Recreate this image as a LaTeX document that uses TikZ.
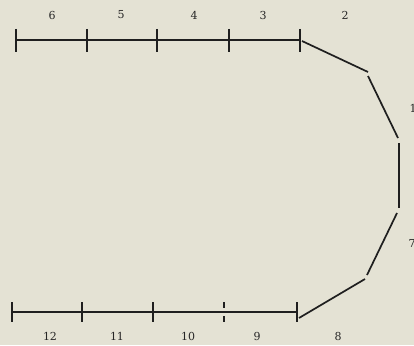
\documentclass[tikz,border=0pt]{standalone}
\usepackage{fontspec}
\setmainfont{DejaVu Serif}
\begin{document}
\begin{tikzpicture}[x=1pt,y=-1pt,
  seg/.style={line width=2.2pt, draw=black!88},
  slant/.style={line width=1.7pt, draw=black!88},
  tickmark/.style={line width=2pt, draw=black!88},
  lab/.style={font=\fontsize{11}{13}\selectfont, text=black!85, inner sep=0pt}]
\definecolor{paper}{RGB}{228,226,212}
\fill[paper] (0,0) rectangle (414,345);
\useasboundingbox (0,0) rectangle (414,345);
% top line
\foreach \n/\x in {t1/15.5,t2/87,t3/157,t4/229,t5/300}{
  \coordinate (\n) at (\x,40);
  \draw[tickmark] (\x,29) -- (\x,52);
}
\draw[seg] (t1) -- (t2) -- (t3) -- (t4) -- (t5);
% bottom line
\foreach \n/\x in {b1/12,b2/82,b3/153,b5/297}{
  \coordinate (\n) at (\x,312);
  \draw[tickmark] (\x,302) -- (\x,322);
}
\coordinate (b4) at (224,312);
\draw[tickmark] (224,302) -- (224,308);
\draw[tickmark] (224,316) -- (224,322);
\draw[seg] (b1) -- (b2) -- (b3) -- (b4) -- (b5);
% curved chain
\coordinate (p1) at (302,41);
\coordinate (p2) at (368,72);
\coordinate (p3) at (368,76);
\coordinate (p4) at (398,138);
\coordinate (p5) at (399,143);
\coordinate (p6) at (399,208);
\coordinate (p7) at (397,213);
\coordinate (p8) at (367,275);
\coordinate (p9) at (365,279);
\coordinate (p10) at (299,318);
\draw[slant] (p1) -- (p2);
\draw[slant] (p3) -- (p4);
\draw[slant] (p5) -- (p6);
\draw[slant] (p7) -- (p8);
\draw[slant] (p9) -- (p10);
% labels
\node[lab] (l6) at (52,15) {6};
\node[lab] (l5) at (121,15) {5};
\node[lab] (l4) at (194,15) {4};
\node[lab] (l3) at (263,15) {3};
\node[lab] (l2) at (345,15) {2};
\node[lab] (l1) at (413,108) {1};
\node[lab] (l7) at (412,243) {7};
\node[lab] (l12) at (50,336) {12};
\node[lab] (l11) at (117,336) {11};
\node[lab] (l10) at (188,336) {10};
\node[lab] (l9) at (257,336) {9};
\node[lab] (l8) at (338,336) {8};
\end{tikzpicture}
\end{document}
